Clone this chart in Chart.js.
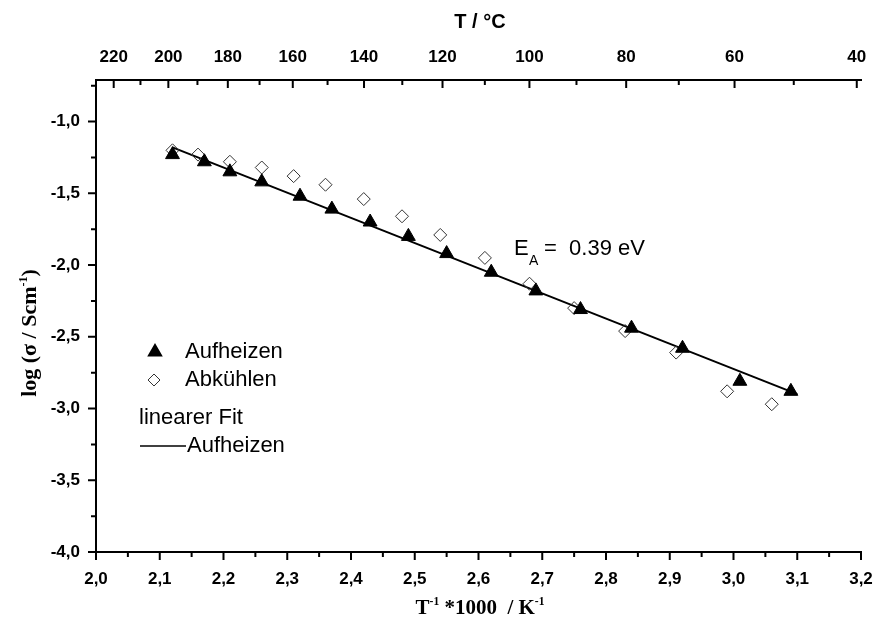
<!DOCTYPE html>
<html>
<head>
<meta charset="utf-8">
<script src="https://cdn.jsdelivr.net/npm/chart.js@4.4.1/dist/chart.umd.min.js"></script>
<style>
  html, body { margin: 0; padding: 0; background: #fff; }
</style>
</head>
<body>
<canvas id="chart" width="877" height="626"></canvas>
<script>
// values
const heatX = [2.12, 2.17, 2.21, 2.26, 2.32, 2.37, 2.43, 2.49, 2.55, 2.62, 2.69, 2.76, 2.84, 2.92, 3.01, 3.09];
const heatY = [-1.23, -1.28, -1.35, -1.42, -1.52, -1.61, -1.70, -1.80, -1.92, -2.05, -2.18, -2.31, -2.44, -2.58, -2.81, -2.88];
const coolX = [2.12, 2.16, 2.21, 2.26, 2.31, 2.36, 2.42, 2.48, 2.54, 2.61, 2.68, 2.75, 2.83, 2.91, 2.99, 3.06];
const coolY = [-1.20, -1.23, -1.28, -1.32, -1.38, -1.44, -1.54, -1.66, -1.79, -1.95, -2.13, -2.30, -2.46, -2.61, -2.88, -2.97];
const fitX = [2.12, 3.10];
const fitY = [-1.18, -2.90];

const xTicks = [2.0, 2.1, 2.2, 2.3, 2.4, 2.5, 2.6, 2.7, 2.8, 2.9, 3.0, 3.1, 3.2];
const xMinor = [2.05, 2.15, 2.25, 2.35, 2.45, 2.55, 2.65, 2.75, 2.85, 2.95, 3.05, 3.15];
const yTicks = [-4.0, -3.5, -3.0, -2.5, -2.0, -1.5, -1.0];
const yMinor = [-3.75, -3.25, -2.75, -2.25, -1.75, -1.25, -0.75];
const tempTicks = [220, 200, 180, 160, 140, 120, 100, 80, 60, 40];
const tempMinor = [210, 190, 170, 150, 130, 110, 90, 70, 50];

const invT = t => 1000 / (t + 273.15);
const comma = v => v.toFixed(1).replace('.', ',');
const pts = (xs, ys) => xs.map((x, i) => ({ x: x, y: ys[i] }));

const tickFont = { family: 'Liberation Sans, Arial, sans-serif', size: 17, weight: 'bold' };

// draws text pieces, some as superscripts
function drawRich(ctx, parts, x, y, size, family) {
    let w = 0;
    parts.forEach(p => {
        ctx.font = 'bold ' + (p.sup ? size * 0.55 : size) + 'px ' + family;
        w += ctx.measureText(p.t).width;
    });
    let cx = x - w / 2;
    parts.forEach(p => {
        ctx.font = 'bold ' + (p.sup ? size * 0.55 : size) + 'px ' + family;
        ctx.fillText(p.t, cx, p.sup ? y - size * 0.42 : y);
        cx += ctx.measureText(p.t).width;
    });
}

const decorPlugin = {
    id: 'decor',
    afterDraw(chart) {
        const ctx = chart.ctx;
        const xs = chart.scales.x, ys = chart.scales.y, ts = chart.scales.x2;
        const area = chart.chartArea;
        ctx.save();
        ctx.strokeStyle = '#000';
        ctx.lineWidth = 2;
        ctx.beginPath();
        // bottom ticks, pointing out
        xTicks.forEach(v => { const p = xs.getPixelForValue(v); ctx.moveTo(p, area.bottom); ctx.lineTo(p, area.bottom + 8); });
        xMinor.forEach(v => { const p = xs.getPixelForValue(v); ctx.moveTo(p, area.bottom); ctx.lineTo(p, area.bottom + 5); });
        // left ticks, pointing out
        yTicks.forEach(v => { const p = ys.getPixelForValue(v); ctx.moveTo(area.left, p); ctx.lineTo(area.left - 8, p); });
        yMinor.forEach(v => { const p = ys.getPixelForValue(v); ctx.moveTo(area.left, p); ctx.lineTo(area.left - 5, p); });
        // top ticks, pointing in
        tempTicks.forEach(t => { const p = ts.getPixelForValue(invT(t)); ctx.moveTo(p, area.top); ctx.lineTo(p, area.top + 8); });
        tempMinor.forEach(t => { const p = ts.getPixelForValue(invT(t)); ctx.moveTo(p, area.top); ctx.lineTo(p, area.top + 5); });
        ctx.stroke();

        ctx.fillStyle = '#000';
        ctx.textBaseline = 'alphabetic';
        // axis titles
        ctx.textAlign = 'left';
        drawRich(ctx, [{ t: 'T / °C' }], 480, 28, 20, 'Liberation Sans, Arial, sans-serif');
        drawRich(ctx, [{ t: 'T' }, { t: '-1', sup: true }, { t: ' *1000  / K' }, { t: '-1', sup: true }], 480, 614, 21, 'Liberation Serif, Times New Roman, serif');
        ctx.save();
        ctx.translate(36, 333);
        ctx.rotate(-Math.PI / 2);
        drawRich(ctx, [{ t: 'log (σ / Scm' }, { t: '-1', sup: true }, { t: ')' }], 0, 0, 22, 'Liberation Serif, Times New Roman, serif');
        ctx.restore();

        // legend
        ctx.font = '22px Liberation Sans, Arial, sans-serif';
        ctx.textBaseline = 'middle';
        Chart.helpers.drawPoint(ctx, { pointStyle: 'triangle', radius: 7, borderWidth: 1 }, 155, 352);
        ctx.fillText('Aufheizen', 185, 352);
        ctx.fillStyle = '#fff';
        ctx.strokeStyle = '#333';
        ctx.lineWidth = 1;
        Chart.helpers.drawPoint(ctx, { pointStyle: 'rectRot', radius: 6, borderWidth: 1 }, 154, 380);
        ctx.fillStyle = '#000';
        ctx.fillText('Abkühlen', 185, 380);
        ctx.fillText('linearer Fit', 139, 418);
        ctx.strokeStyle = '#000';
        ctx.lineWidth = 1.5;
        ctx.beginPath();
        ctx.moveTo(140, 446);
        ctx.lineTo(186, 446);
        ctx.stroke();
        ctx.fillText('Aufheizen', 187, 446);

        // activation energy label
        ctx.fillText('E', 514, 249);
        ctx.font = '14px Liberation Sans, Arial, sans-serif';
        ctx.fillText('A', 529, 261);
        ctx.font = '22px Liberation Sans, Arial, sans-serif';
        ctx.fillText('=  0.39 eV', 544, 249);
        ctx.restore();
    }
};

const ctx = document.getElementById('chart').getContext('2d');
new Chart(ctx, {
    type: 'scatter',
    data: {
        datasets: [
            {
                label: 'Aufheizen',
                data: pts(heatX, heatY),
                pointStyle: 'triangle',
                pointRadius: 8,
                backgroundColor: '#000',
                borderColor: '#000',
                borderWidth: 1,
                order: 0
            },
            {
                label: 'Abkühlen',
                data: pts(coolX, coolY),
                pointStyle: 'rectRot',
                pointRadius: 6.5,
                backgroundColor: 'rgba(255,255,255,0)',
                borderColor: '#333',
                borderWidth: 1,
                order: 1
            },
            {
                label: 'linearer Fit Aufheizen',
                type: 'line',
                data: pts(fitX, fitY),
                borderColor: '#000',
                borderWidth: 2,
                pointRadius: 0,
                order: 2
            }
        ]
    },
    options: {
        responsive: false,
        animation: false,
        layout: { padding: { left: 0, right: 16, top: 0, bottom: 0 } },
        plugins: {
            legend: { display: false },
            tooltip: { enabled: false }
        },
        scales: {
            x: {
                type: 'linear',
                position: 'bottom',
                min: 2.0,
                max: 3.2,
                afterBuildTicks: s => { s.ticks = xTicks.map(v => ({ value: v })); },
                afterFit: s => { s.height = 74; s.paddingLeft = 0; s.paddingRight = 0; },
                ticks: { callback: v => comma(v), font: tickFont, color: '#000', padding: 17, maxRotation: 0, autoSkip: false },
                grid: { display: false, drawTicks: false },
                border: { color: '#000', width: 2 }
            },
            x2: {
                type: 'linear',
                position: 'top',
                min: 2.0,
                max: 3.2,
                afterBuildTicks: s => { s.ticks = tempTicks.map(t => ({ value: invT(t) })); },
                afterFit: s => { s.height = 80; s.paddingLeft = 0; s.paddingRight = 0; },
                ticks: { callback: (v, i) => String(tempTicks[i]), font: tickFont, color: '#000', padding: 12, maxRotation: 0, autoSkip: false },
                grid: { display: false, drawTicks: false },
                border: { color: '#000', width: 2 }
            },
            y: {
                type: 'linear',
                min: -4.0,
                max: -0.71,
                afterBuildTicks: s => { s.ticks = yTicks.map(v => ({ value: v })); },
                afterFit: s => { s.width = 96; },
                ticks: { callback: v => comma(v), font: tickFont, color: '#000', padding: 16 },
                grid: { display: false, drawTicks: false },
                border: { color: '#000', width: 2 }
            }
        }
    },
    plugins: [decorPlugin]
});
</script>
</body>
</html>
